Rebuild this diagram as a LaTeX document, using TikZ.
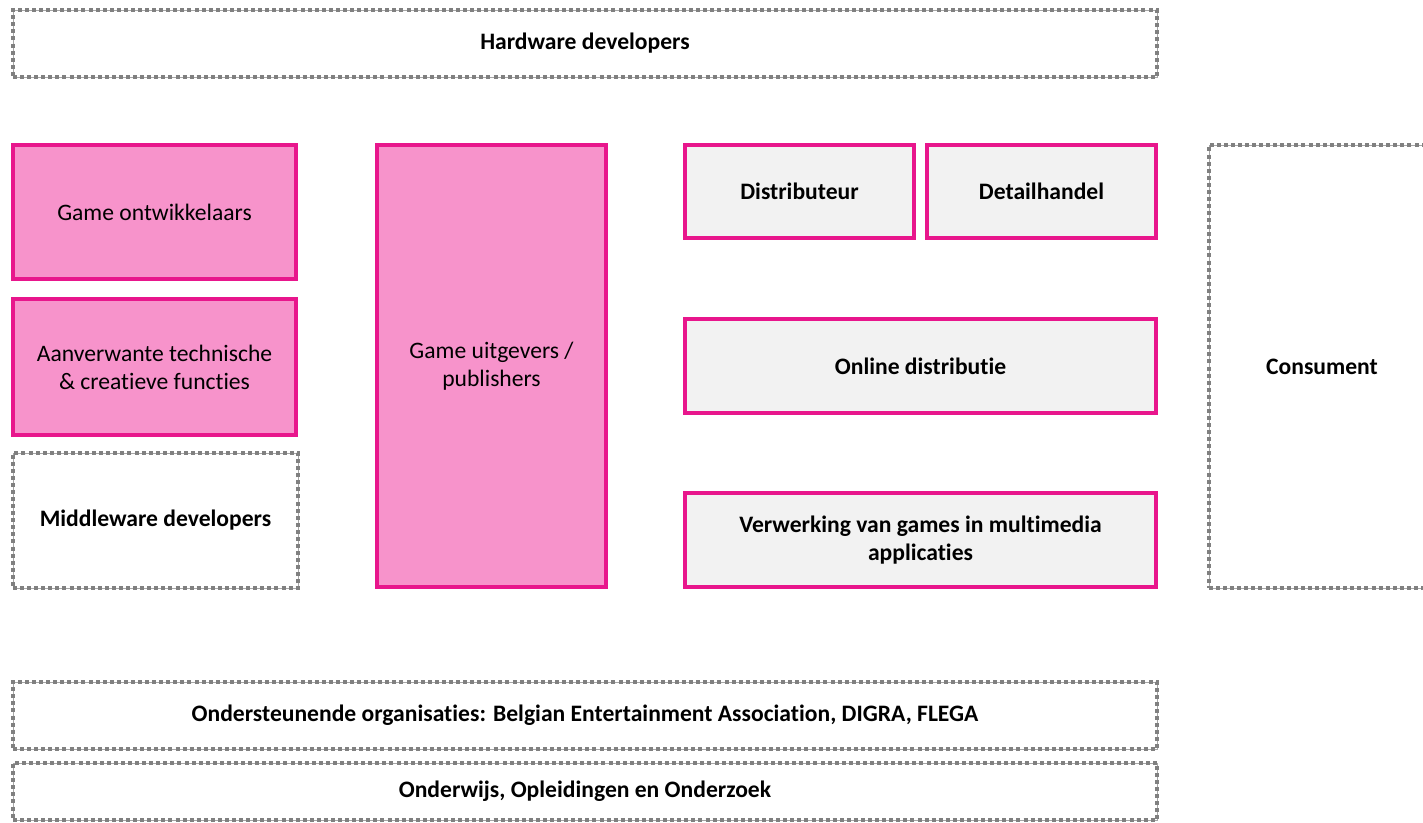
\documentclass[tikz,border=0pt]{standalone}
\usepackage{fontspec}
\setmainfont[Ligatures=NoCommon]{Carlito}
\definecolor{pinkfill}{HTML}{F793CB}
\definecolor{pinkline}{HTML}{E8168C}
\definecolor{greyfill}{HTML}{F2F2F2}
\definecolor{dashgrey}{HTML}{808080}
\begin{document}
\begin{tikzpicture}[x=0.75pt,y=-0.75pt,
  base/.style={rectangle,inner sep=0pt,align=center,font=\fontsize{17.7}{21}\selectfont},
  pinkbox/.style={base,draw=pinkline,fill=pinkfill,line width=3pt},
  greybox/.style={base,draw=pinkline,fill=greyfill,line width=3pt,font=\fontsize{17.7}{21}\selectfont\bfseries},
  dashbox/.style={base,draw=dashgrey!70,line width=0.5pt,fill=white,font=\fontsize{17.7}{21}\selectfont\bfseries,
    postaction={draw=dashgrey,line width=3.2pt,dash pattern=on 3pt off 2.3pt}}]
\useasboundingbox (0,0) rectangle (1423,822);
\clip (0,0) rectangle (1423,822);
\node[dashbox,minimum width=858pt,minimum height=50.25pt] (hw) at (585,43.5) {Hardware developers};
\node[pinkbox,minimum width=212.25pt,minimum height=100.5pt] (go) at (154.5,212) {Game ontwikkelaars};
\node[pinkbox,minimum width=212.25pt,minimum height=102pt] (av) at (154.5,367) {Aanverwante technische\\\& creatieve functies};
\node[dashbox,minimum width=213.75pt,minimum height=101.25pt] (mw) at (155.5,520.5) {Middleware developers};
\node[pinkbox,minimum width=171.75pt,minimum height=331.5pt] (gu) at (491.5,366) {Game uitgevers /\\publishers};
\node[greybox,minimum width=171.75pt,minimum height=69.75pt] (di) at (799.5,191.5) {Distributeur};
\node[greybox,minimum width=171.75pt,minimum height=69.75pt] (dh) at (1041.5,191.5) {Detailhandel};
\node[greybox,minimum width=353.25pt,minimum height=70.5pt] (od) at (920.5,366) {Online distributie};
\node[greybox,minimum width=353.25pt,minimum height=70.5pt] (vw) at (920.5,540) {Verwerking van games in multimedia\\applicaties};
\node[dashbox,minimum width=169.5pt,minimum height=332.25pt] (co) at (1322,366.5) {Consument};
\node[dashbox,minimum width=858pt,minimum height=50.25pt] (os) at (585,715.5) {Ondersteunende organisaties: Belgian Entertainment Association, DIGRA, FLEGA};
\node[dashbox,minimum width=858pt,minimum height=42.75pt] (ow) at (585,791.5) {Onderwijs, Opleidingen en Onderzoek};
\end{tikzpicture}
\end{document}
